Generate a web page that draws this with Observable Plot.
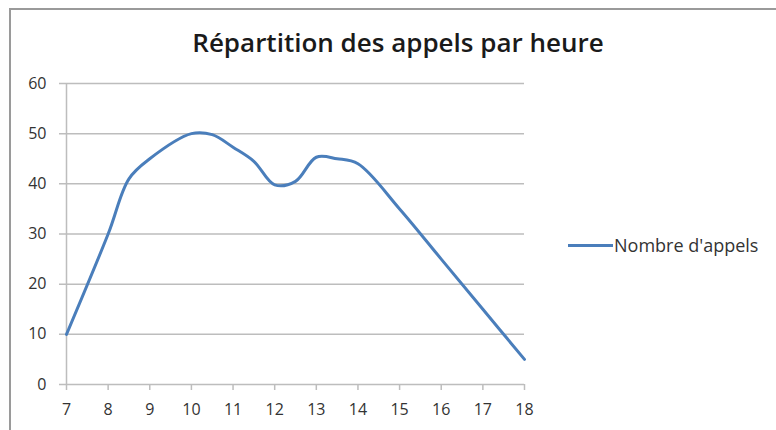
<!DOCTYPE html>
<html>
<head>
<meta charset="utf-8">
<script src="https://cdn.jsdelivr.net/npm/d3@7"></script>
<script src="https://cdn.jsdelivr.net/npm/@observablehq/plot@0.6"></script>
<style>
  html, body { margin: 0; padding: 0; background: #fff; }
  #wrap { position: relative; width: 776px; height: 430px; overflow: hidden; font-family: "Open Sans", "Noto Sans", sans-serif; }
  #frame { position: absolute; left: 9px; top: 8px; width: 800px; height: 500px; border-left: 2px solid #9a9a9a; border-top: 2px solid #9a9a9a; }
  #title { position: absolute; left: 0; width: 796px; top: 24px; text-align: center; font-size: 26px; font-weight: 600; color: #1a1a1a; line-height: 36px; }
  #legend { position: absolute; left: 568px; top: 233px; font-size: 18px; color: #333; display: flex; align-items: center; line-height: 24px; }
  #legend .sw { width: 45px; height: 3px; background: #4a7ebb; margin-right: 1px; }
  #chart { position: absolute; left: 0; top: 0; }
</style>
</head>
<body>
<div id="wrap">
  <div id="frame"></div>
  <div id="title">Répartition des appels par heure</div>
  <div id="legend"><span class="sw"></span><span>Nombre d'appels</span></div>
  <div id="chart"></div>
</div>
<script>
const hours = [7, 8, 8.5, 9, 10, 10.5, 11, 11.5, 12, 12.5, 13, 13.5, 14, 15, 16, 17, 18];
const calls = [10, 30, 41, 45, 50, 49.8, 47.3, 44.5, 39.8, 40.5, 45.3, 45, 44, 35, 25, 15, 5];
const xTicks = [7, 8, 9, 10, 11, 12, 13, 14, 15, 16, 17, 18];
const yTicks = [0, 10, 20, 30, 40, 50, 60];
const seriesName = "Nombre d'appels";

const data = hours.map((h, i) => ({hour: h, calls: calls[i]}));

const chart = Plot.plot({
  width: 776,
  height: 430,
  marginLeft: 66,
  marginRight: 252,
  marginTop: 83,
  marginBottom: 46,
  style: {fontFamily: "'Open Sans', 'Noto Sans', sans-serif", fontSize: "16px", color: "#333", background: "transparent"},
  x: {domain: [7, 18], ticks: xTicks},
  y: {domain: [0, 60], ticks: yTicks},
  marks: [
    Plot.ruleY(yTicks, {stroke: "#bdbdbd", strokeWidth: 1.5, insetLeft: -7, strokeOpacity: 1}),
    Plot.ruleX([7], {y1: 0, y2: 60, stroke: "#bdbdbd", strokeWidth: 1.5}),
    Plot.axisY({ticks: yTicks, tickSize: 0, tickPadding: 20, label: null, fontSize: 16, fill: "#333"}),
    Plot.axisX({ticks: xTicks, tickSize: 6, tickPadding: 13, label: null, fontSize: 16, stroke: "#bdbdbd", strokeWidth: 1.5, strokeOpacity: 1, fill: "#333"}),
    Plot.line(data, {x: "hour", y: "calls", stroke: "#4a7ebb", strokeWidth: 3, curve: "catmull-rom"})
  ]
});
document.getElementById("chart").appendChild(chart);
</script>
</body>
</html>
